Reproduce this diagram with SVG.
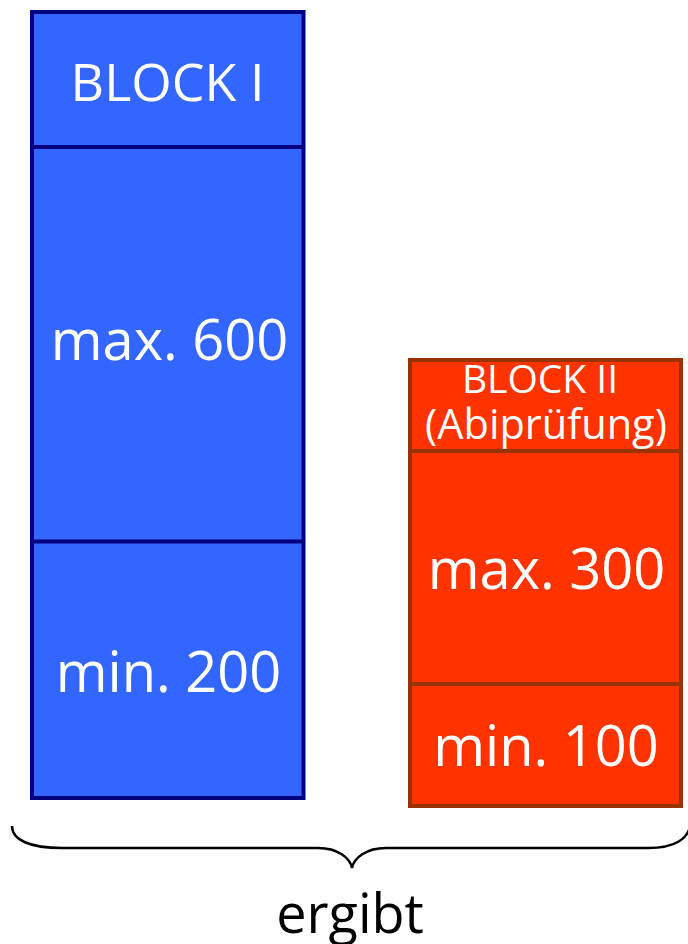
<svg xmlns="http://www.w3.org/2000/svg" width="688" height="944" viewBox="0 0 688 944">
<style>
.blue{fill:#3366FF;stroke:#000080;stroke-width:4}
.red{fill:#FF3300;stroke:#993300;stroke-width:4}
.bl{stroke:#000080;stroke-width:4}
.rl{stroke:#993300;stroke-width:4}
.t{font-family:"Open Sans","Noto Sans",sans-serif;fill:#FFFFFF;text-anchor:middle}
.k{font-family:"Open Sans","Noto Sans",sans-serif;fill:#000000;text-anchor:middle}
</style>
<rect width="688" height="944" fill="#FFFFFF"/>
<g id="block1">
<rect class="blue" x="32" y="12" width="271.5" height="786"/>
<line class="bl" x1="32" y1="147" x2="303.5" y2="147"/>
<line class="bl" x1="32" y1="541.5" x2="303.5" y2="541.5"/>
<text class="t" x="167.5" y="101" font-size="52">BLOCK I</text>
<text class="t" x="169.5" y="360" font-size="56">max. 600</text>
<text class="t" x="168.5" y="692" font-size="56">min. 200</text>
</g>
<g id="block2">
<rect class="red" x="410" y="360" width="271" height="446"/>
<line class="rl" x1="410" y1="451" x2="681" y2="451"/>
<line class="rl" x1="410" y1="684" x2="681" y2="684"/>
<text class="t" x="540" y="393" font-size="39">BLOCK II</text>
<text class="t" x="546" y="439" font-size="41.5">(Abiprüfung)</text>
<text class="t" x="546.5" y="589" font-size="56">max. 300</text>
<text class="t" x="546" y="766" font-size="56">min. 100</text>
</g>
<g id="connectors">
<path d="M12,826 C12,840 30,848 62,848 L318,848 C338,848 350,858 352,868 C354,858 366,848 386,848 L648,848 C676,848 688,838 690,826" fill="none" stroke="#000000" stroke-width="2.5"/>
</g>
<g id="label">
<text class="k" x="350" y="933" font-size="54">ergibt</text>
</g>
</svg>
